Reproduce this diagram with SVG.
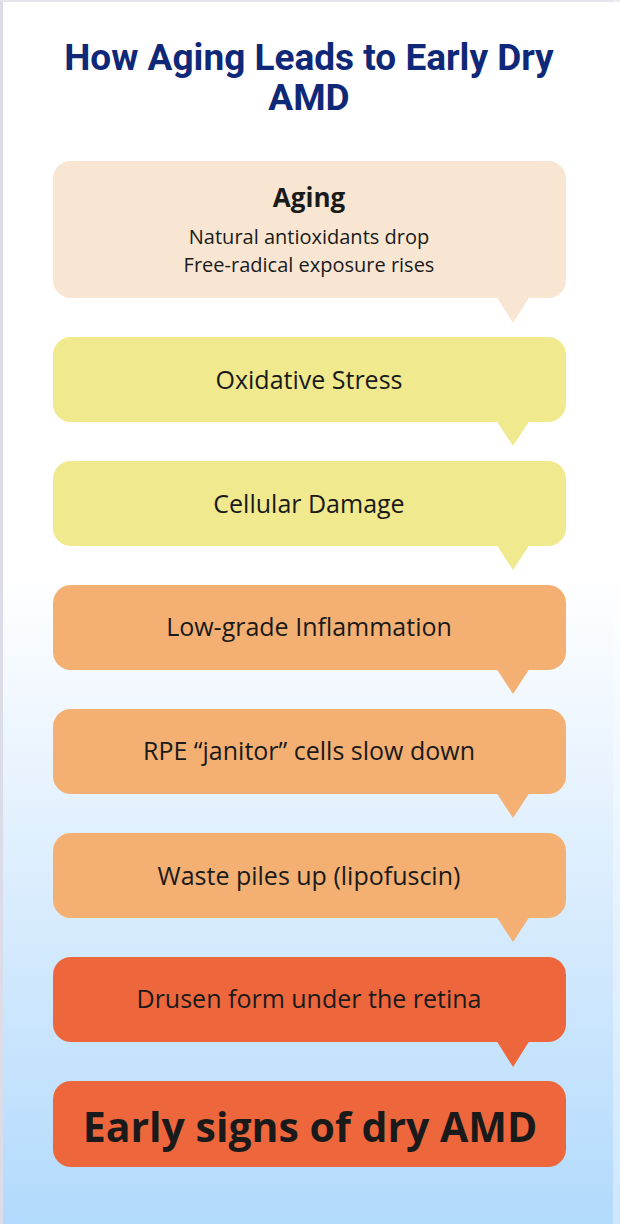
<svg xmlns="http://www.w3.org/2000/svg" width="620" height="1224" viewBox="0 0 620 1224">
<defs>
<linearGradient id="bg" x1="0" y1="0" x2="0" y2="1">
<stop offset="0" stop-color="#ffffff"/>
<stop offset="0.47" stop-color="#ffffff"/>
<stop offset="0.62" stop-color="#eaf4fe"/>
<stop offset="1" stop-color="#b2dafc"/>
</linearGradient>
<style>
.t{font-family:"Open Sans","Liberation Sans",sans-serif;fill:#1a1a1a;text-anchor:middle}
.title{font-family:Roboto,Inter,"Liberation Sans",sans-serif;font-weight:bold;fill:#0f2878;text-anchor:middle;font-size:37px}
.s{font-size:25px}
</style>
</defs>
<rect width="620" height="1224" fill="url(#bg)"/>
<rect x="0" y="0" width="3" height="1224" fill="#dcdce8"/>
<rect x="0" y="0" width="620" height="2" fill="#e4e4ea"/>
<rect x="613" y="0" width="7" height="1224" fill="#ffffff" opacity="0.35"/>
<text class="title" x="309" y="70">How Aging Leads to Early Dry</text>
<text class="title" x="309" y="110">AMD</text>
<g id="connectors">
<path d="M496 296 L513 323 L530 296 Z" fill="#f8e6d2"/>
<path d="M496 420 L513 446 L530 420 Z" fill="#f0e98e"/>
<path d="M496 544 L513 570 L530 544 Z" fill="#f0e98e"/>
<path d="M496 668 L513 694 L530 668 Z" fill="#f3b072"/>
<path d="M496 792 L513 818 L530 792 Z" fill="#f3b072"/>
<path d="M496 916 L513 942 L530 916 Z" fill="#f3b072"/>
<path d="M496 1040 L513 1067 L530 1040 Z" fill="#ee673c"/>
</g>
<g id="n1">
<rect x="53" y="161" width="513" height="137" rx="18" fill="#f8e6d2"/>
<text class="t" x="309" y="207" font-size="26" font-weight="bold">Aging</text>
<text class="t" x="309" y="244" font-size="20">Natural antioxidants drop</text>
<text class="t" x="309" y="272" font-size="20">Free-radical exposure rises</text>
</g>
<g id="n2">
<rect x="53" y="337" width="513" height="85" rx="18" fill="#f0e98e"/>
<text class="t s" x="309" y="389">Oxidative Stress</text>
</g>
<g id="n3">
<rect x="53" y="461" width="513" height="85" rx="18" fill="#f0e98e"/>
<text class="t s" x="309" y="513">Cellular Damage</text>
</g>
<g id="n4">
<rect x="53" y="585" width="513" height="85" rx="18" fill="#f3b072"/>
<text class="t s" x="309" y="636">Low-grade Inflammation</text>
</g>
<g id="n5">
<rect x="53" y="709" width="513" height="85" rx="18" fill="#f3b072"/>
<text class="t s" x="309" y="760">RPE “janitor” cells slow down</text>
</g>
<g id="n6">
<rect x="53" y="833" width="513" height="85" rx="18" fill="#f3b072"/>
<text class="t s" x="309" y="885">Waste piles up (lipofuscin)</text>
</g>
<g id="n7">
<rect x="53" y="957" width="513" height="85" rx="18" fill="#ee673c"/>
<text class="t s" x="309" y="1008">Drusen form under the retina</text>
</g>
<g id="n8">
<rect x="53" y="1081" width="513" height="86" rx="18" fill="#ee673c"/>
<text class="t" x="310" y="1142" font-size="41" font-weight="bold" fill="#111">Early signs of dry AMD</text>
</g>
</svg>
